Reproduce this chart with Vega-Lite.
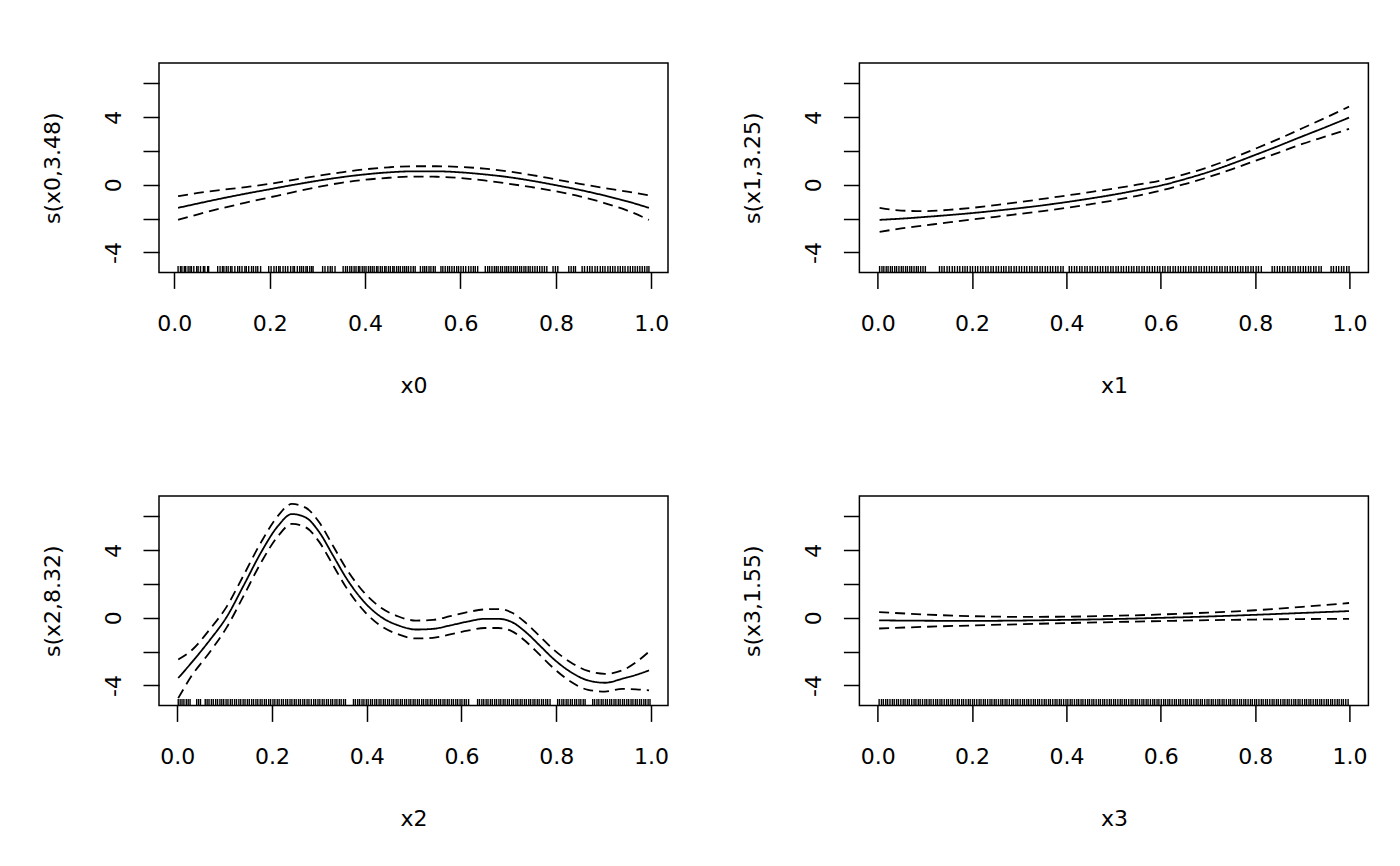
{
  "$schema": "https://vega.github.io/schema/vega-lite/v6.json",
  "background": "white",
  "padding": {"left": 40, "top": 62, "right": 0, "bottom": 0},
  "autosize": {"type": "pad"},
  "datasets": {
    "c0": [
      {"x": 0.008, "fit": -1.36, "up": -0.67, "lo": -2.07},
      {"x": 0.05, "fit": -1.10, "up": -0.48, "lo": -1.74},
      {"x": 0.1, "fit": -0.80, "up": -0.30, "lo": -1.38},
      {"x": 0.15, "fit": -0.52, "up": -0.13, "lo": -1.05},
      {"x": 0.2, "fit": -0.26, "up": 0.06, "lo": -0.74},
      {"x": 0.25, "fit": 0.00, "up": 0.30, "lo": -0.43},
      {"x": 0.3, "fit": 0.24, "up": 0.53, "lo": -0.13},
      {"x": 0.35, "fit": 0.45, "up": 0.74, "lo": 0.12},
      {"x": 0.4, "fit": 0.62, "up": 0.92, "lo": 0.30},
      {"x": 0.45, "fit": 0.74, "up": 1.04, "lo": 0.42},
      {"x": 0.5, "fit": 0.80, "up": 1.10, "lo": 0.49},
      {"x": 0.55, "fit": 0.80, "up": 1.10, "lo": 0.48},
      {"x": 0.6, "fit": 0.74, "up": 1.06, "lo": 0.40},
      {"x": 0.65, "fit": 0.62, "up": 0.96, "lo": 0.26},
      {"x": 0.7, "fit": 0.46, "up": 0.80, "lo": 0.07},
      {"x": 0.75, "fit": 0.24, "up": 0.58, "lo": -0.14},
      {"x": 0.8, "fit": -0.02, "up": 0.32, "lo": -0.38},
      {"x": 0.85, "fit": -0.30, "up": 0.06, "lo": -0.68},
      {"x": 0.9, "fit": -0.62, "up": -0.18, "lo": -1.06},
      {"x": 0.95, "fit": -0.98, "up": -0.40, "lo": -1.52},
      {"x": 0.995, "fit": -1.36, "up": -0.62, "lo": -2.07}
    ],
    "c1": [
      {"x": 0.004, "fit": -2.07, "up": -1.36, "lo": -2.78},
      {"x": 0.05, "fit": -2.00, "up": -1.52, "lo": -2.58},
      {"x": 0.1, "fit": -1.90, "up": -1.56, "lo": -2.40},
      {"x": 0.15, "fit": -1.79, "up": -1.48, "lo": -2.22},
      {"x": 0.2, "fit": -1.67, "up": -1.36, "lo": -2.05},
      {"x": 0.25, "fit": -1.53, "up": -1.20, "lo": -1.89},
      {"x": 0.3, "fit": -1.38, "up": -1.02, "lo": -1.72},
      {"x": 0.35, "fit": -1.21, "up": -0.83, "lo": -1.55},
      {"x": 0.4, "fit": -1.02, "up": -0.63, "lo": -1.36},
      {"x": 0.45, "fit": -0.81, "up": -0.43, "lo": -1.15},
      {"x": 0.5, "fit": -0.58, "up": -0.22, "lo": -0.92},
      {"x": 0.55, "fit": -0.32, "up": 0.01, "lo": -0.65},
      {"x": 0.6, "fit": -0.04, "up": 0.26, "lo": -0.34},
      {"x": 0.65, "fit": 0.33, "up": 0.62, "lo": 0.04},
      {"x": 0.7, "fit": 0.75, "up": 1.04, "lo": 0.45},
      {"x": 0.75, "fit": 1.24, "up": 1.56, "lo": 0.92},
      {"x": 0.8, "fit": 1.77, "up": 2.13, "lo": 1.42},
      {"x": 0.85, "fit": 2.31, "up": 2.72, "lo": 1.91},
      {"x": 0.9, "fit": 2.87, "up": 3.35, "lo": 2.42},
      {"x": 0.95, "fit": 3.42, "up": 3.98, "lo": 2.87},
      {"x": 0.999, "fit": 3.98, "up": 4.63, "lo": 3.31}
    ],
    "c2": [
      {"x": 0.002, "fit": -3.56, "up": -2.46, "lo": -4.75},
      {"x": 0.031, "fit": -2.62, "up": -1.90, "lo": -3.40},
      {"x": 0.068, "fit": -1.34, "up": -0.70, "lo": -2.05},
      {"x": 0.104, "fit": 0.04, "up": 0.65, "lo": -0.58},
      {"x": 0.14, "fit": 1.91, "up": 2.52, "lo": 1.30},
      {"x": 0.177, "fit": 3.88, "up": 4.48, "lo": 3.28},
      {"x": 0.213, "fit": 5.45, "up": 6.05, "lo": 4.85},
      {"x": 0.242, "fit": 6.14, "up": 6.74, "lo": 5.56},
      {"x": 0.271, "fit": 5.94, "up": 6.52, "lo": 5.36},
      {"x": 0.3, "fit": 5.06, "up": 5.64, "lo": 4.48},
      {"x": 0.329, "fit": 3.68, "up": 4.25, "lo": 3.11},
      {"x": 0.358, "fit": 2.30, "up": 2.86, "lo": 1.74},
      {"x": 0.395, "fit": 0.93, "up": 1.48, "lo": 0.38},
      {"x": 0.431, "fit": 0.04, "up": 0.58, "lo": -0.50},
      {"x": 0.467, "fit": -0.45, "up": 0.08, "lo": -0.98},
      {"x": 0.504, "fit": -0.69, "up": -0.16, "lo": -1.22},
      {"x": 0.54, "fit": -0.65, "up": -0.12, "lo": -1.18},
      {"x": 0.576, "fit": -0.45, "up": 0.10, "lo": -0.98},
      {"x": 0.613, "fit": -0.22, "up": 0.34, "lo": -0.76},
      {"x": 0.649, "fit": -0.06, "up": 0.50, "lo": -0.60},
      {"x": 0.678, "fit": -0.06, "up": 0.52, "lo": -0.60},
      {"x": 0.707, "fit": -0.26, "up": 0.30, "lo": -0.80},
      {"x": 0.736, "fit": -0.85, "up": -0.30, "lo": -1.40},
      {"x": 0.765, "fit": -1.63, "up": -1.08, "lo": -2.18},
      {"x": 0.794, "fit": -2.42, "up": -1.87, "lo": -2.97},
      {"x": 0.831, "fit": -3.21, "up": -2.64, "lo": -3.78},
      {"x": 0.867, "fit": -3.70, "up": -3.14, "lo": -4.26},
      {"x": 0.903, "fit": -3.84, "up": -3.31, "lo": -4.36},
      {"x": 0.94, "fit": -3.60, "up": -3.10, "lo": -4.20},
      {"x": 0.969, "fit": -3.37, "up": -2.62, "lo": -4.23},
      {"x": 0.996, "fit": -3.11, "up": -2.00, "lo": -4.29}
    ],
    "c3": [
      {"x": 0.003, "fit": -0.15, "up": 0.34, "lo": -0.63},
      {"x": 0.1, "fit": -0.17, "up": 0.20, "lo": -0.53},
      {"x": 0.2, "fit": -0.18, "up": 0.10, "lo": -0.45},
      {"x": 0.3, "fit": -0.16, "up": 0.06, "lo": -0.38},
      {"x": 0.4, "fit": -0.12, "up": 0.07, "lo": -0.31},
      {"x": 0.5, "fit": -0.07, "up": 0.12, "lo": -0.25},
      {"x": 0.6, "fit": 0.00, "up": 0.20, "lo": -0.19},
      {"x": 0.7, "fit": 0.08, "up": 0.31, "lo": -0.14},
      {"x": 0.8, "fit": 0.18, "up": 0.45, "lo": -0.10},
      {"x": 0.9, "fit": 0.29, "up": 0.65, "lo": -0.07},
      {"x": 0.999, "fit": 0.40, "up": 0.88, "lo": -0.06}
    ],
    "r0": [
      {"x": 0.008}, {"x": 0.013}, {"x": 0.016}, {"x": 0.021}, {"x": 0.024}, {"x": 0.029}, {"x": 0.033}, {"x": 0.036}, {"x": 0.041}, {"x": 0.047},
      {"x": 0.05}, {"x": 0.055}, {"x": 0.061}, {"x": 0.064}, {"x": 0.07}, {"x": 0.072}, {"x": 0.091}, {"x": 0.096}, {"x": 0.101}, {"x": 0.104},
      {"x": 0.109}, {"x": 0.113}, {"x": 0.118}, {"x": 0.121}, {"x": 0.127}, {"x": 0.133}, {"x": 0.137}, {"x": 0.142}, {"x": 0.148}, {"x": 0.151},
      {"x": 0.156}, {"x": 0.162}, {"x": 0.166}, {"x": 0.171}, {"x": 0.175}, {"x": 0.181}, {"x": 0.198}, {"x": 0.203}, {"x": 0.209}, {"x": 0.214},
      {"x": 0.219}, {"x": 0.222}, {"x": 0.228}, {"x": 0.233}, {"x": 0.238}, {"x": 0.244}, {"x": 0.249}, {"x": 0.252}, {"x": 0.258}, {"x": 0.263},
      {"x": 0.267}, {"x": 0.271}, {"x": 0.276}, {"x": 0.279}, {"x": 0.284}, {"x": 0.288}, {"x": 0.291}, {"x": 0.311}, {"x": 0.316}, {"x": 0.322},
      {"x": 0.327}, {"x": 0.331}, {"x": 0.337}, {"x": 0.354}, {"x": 0.359}, {"x": 0.363}, {"x": 0.368}, {"x": 0.372}, {"x": 0.377}, {"x": 0.381},
      {"x": 0.386}, {"x": 0.389}, {"x": 0.394}, {"x": 0.398}, {"x": 0.402}, {"x": 0.407}, {"x": 0.411}, {"x": 0.415}, {"x": 0.419}, {"x": 0.424},
      {"x": 0.427}, {"x": 0.432}, {"x": 0.436}, {"x": 0.441}, {"x": 0.444}, {"x": 0.449}, {"x": 0.453}, {"x": 0.458}, {"x": 0.461}, {"x": 0.466},
      {"x": 0.47}, {"x": 0.474}, {"x": 0.479}, {"x": 0.483}, {"x": 0.487}, {"x": 0.491}, {"x": 0.496}, {"x": 0.501}, {"x": 0.505}, {"x": 0.516},
      {"x": 0.521}, {"x": 0.525}, {"x": 0.529}, {"x": 0.534}, {"x": 0.538}, {"x": 0.543}, {"x": 0.547}, {"x": 0.559}, {"x": 0.563}, {"x": 0.568},
      {"x": 0.573}, {"x": 0.577}, {"x": 0.582}, {"x": 0.587}, {"x": 0.592}, {"x": 0.596}, {"x": 0.601}, {"x": 0.606}, {"x": 0.611}, {"x": 0.617},
      {"x": 0.622}, {"x": 0.627}, {"x": 0.631}, {"x": 0.636}, {"x": 0.652}, {"x": 0.657}, {"x": 0.661}, {"x": 0.666}, {"x": 0.671}, {"x": 0.675},
      {"x": 0.679}, {"x": 0.684}, {"x": 0.688}, {"x": 0.693}, {"x": 0.697}, {"x": 0.701}, {"x": 0.706}, {"x": 0.711}, {"x": 0.715}, {"x": 0.719},
      {"x": 0.724}, {"x": 0.728}, {"x": 0.733}, {"x": 0.737}, {"x": 0.742}, {"x": 0.746}, {"x": 0.751}, {"x": 0.756}, {"x": 0.761}, {"x": 0.766},
      {"x": 0.771}, {"x": 0.776}, {"x": 0.781}, {"x": 0.794}, {"x": 0.799}, {"x": 0.804}, {"x": 0.827}, {"x": 0.832}, {"x": 0.837}, {"x": 0.841},
      {"x": 0.855}, {"x": 0.86}, {"x": 0.866}, {"x": 0.871}, {"x": 0.876}, {"x": 0.882}, {"x": 0.887}, {"x": 0.893}, {"x": 0.898}, {"x": 0.903},
      {"x": 0.909}, {"x": 0.914}, {"x": 0.919}, {"x": 0.924}, {"x": 0.93}, {"x": 0.935}, {"x": 0.94}, {"x": 0.945}, {"x": 0.951}, {"x": 0.956},
      {"x": 0.961}, {"x": 0.966}, {"x": 0.971}, {"x": 0.976}, {"x": 0.981}, {"x": 0.986}, {"x": 0.991}, {"x": 0.995}
    ],
    "r1": [
      {"x": 0.004}, {"x": 0.009}, {"x": 0.013}, {"x": 0.018}, {"x": 0.022}, {"x": 0.027}, {"x": 0.031}, {"x": 0.036}, {"x": 0.04}, {"x": 0.045},
      {"x": 0.05}, {"x": 0.054}, {"x": 0.059}, {"x": 0.063}, {"x": 0.068}, {"x": 0.072}, {"x": 0.077}, {"x": 0.082}, {"x": 0.086}, {"x": 0.091},
      {"x": 0.096}, {"x": 0.101}, {"x": 0.131}, {"x": 0.136}, {"x": 0.141}, {"x": 0.147}, {"x": 0.152}, {"x": 0.158}, {"x": 0.163}, {"x": 0.169},
      {"x": 0.174}, {"x": 0.18}, {"x": 0.185}, {"x": 0.19}, {"x": 0.196}, {"x": 0.201}, {"x": 0.207}, {"x": 0.212}, {"x": 0.218}, {"x": 0.223},
      {"x": 0.229}, {"x": 0.234}, {"x": 0.24}, {"x": 0.245}, {"x": 0.251}, {"x": 0.256}, {"x": 0.262}, {"x": 0.267}, {"x": 0.272}, {"x": 0.278},
      {"x": 0.283}, {"x": 0.289}, {"x": 0.294}, {"x": 0.3}, {"x": 0.305}, {"x": 0.311}, {"x": 0.316}, {"x": 0.322}, {"x": 0.327}, {"x": 0.333},
      {"x": 0.338}, {"x": 0.344}, {"x": 0.349}, {"x": 0.355}, {"x": 0.36}, {"x": 0.366}, {"x": 0.371}, {"x": 0.377}, {"x": 0.382}, {"x": 0.388},
      {"x": 0.393}, {"x": 0.406}, {"x": 0.411}, {"x": 0.417}, {"x": 0.422}, {"x": 0.428}, {"x": 0.433}, {"x": 0.439}, {"x": 0.444}, {"x": 0.45},
      {"x": 0.455}, {"x": 0.461}, {"x": 0.466}, {"x": 0.472}, {"x": 0.477}, {"x": 0.483}, {"x": 0.488}, {"x": 0.494}, {"x": 0.499}, {"x": 0.505},
      {"x": 0.51}, {"x": 0.516}, {"x": 0.521}, {"x": 0.527}, {"x": 0.532}, {"x": 0.538}, {"x": 0.543}, {"x": 0.549}, {"x": 0.554}, {"x": 0.56},
      {"x": 0.565}, {"x": 0.571}, {"x": 0.576}, {"x": 0.582}, {"x": 0.587}, {"x": 0.593}, {"x": 0.598}, {"x": 0.604}, {"x": 0.609}, {"x": 0.615},
      {"x": 0.62}, {"x": 0.626}, {"x": 0.631}, {"x": 0.637}, {"x": 0.642}, {"x": 0.648}, {"x": 0.653}, {"x": 0.659}, {"x": 0.664}, {"x": 0.67},
      {"x": 0.675}, {"x": 0.681}, {"x": 0.686}, {"x": 0.692}, {"x": 0.697}, {"x": 0.703}, {"x": 0.708}, {"x": 0.714}, {"x": 0.719}, {"x": 0.725},
      {"x": 0.73}, {"x": 0.736}, {"x": 0.741}, {"x": 0.747}, {"x": 0.752}, {"x": 0.758}, {"x": 0.763}, {"x": 0.769}, {"x": 0.774}, {"x": 0.78},
      {"x": 0.785}, {"x": 0.791}, {"x": 0.796}, {"x": 0.802}, {"x": 0.807}, {"x": 0.813}, {"x": 0.836}, {"x": 0.841}, {"x": 0.847}, {"x": 0.852},
      {"x": 0.858}, {"x": 0.863}, {"x": 0.869}, {"x": 0.874}, {"x": 0.88}, {"x": 0.885}, {"x": 0.891}, {"x": 0.896}, {"x": 0.902}, {"x": 0.907},
      {"x": 0.913}, {"x": 0.918}, {"x": 0.924}, {"x": 0.929}, {"x": 0.935}, {"x": 0.94}, {"x": 0.961}, {"x": 0.966}, {"x": 0.972}, {"x": 0.977},
      {"x": 0.983}, {"x": 0.988}, {"x": 0.994}, {"x": 0.999}
    ],
    "r2": [
      {"x": 0.002}, {"x": 0.006}, {"x": 0.01}, {"x": 0.014}, {"x": 0.019}, {"x": 0.023}, {"x": 0.027}, {"x": 0.041}, {"x": 0.045}, {"x": 0.049},
      {"x": 0.059}, {"x": 0.063}, {"x": 0.067}, {"x": 0.072}, {"x": 0.076}, {"x": 0.081}, {"x": 0.085}, {"x": 0.09}, {"x": 0.094}, {"x": 0.098},
      {"x": 0.103}, {"x": 0.107}, {"x": 0.112}, {"x": 0.116}, {"x": 0.121}, {"x": 0.125}, {"x": 0.13}, {"x": 0.134}, {"x": 0.139}, {"x": 0.143},
      {"x": 0.148}, {"x": 0.152}, {"x": 0.157}, {"x": 0.161}, {"x": 0.166}, {"x": 0.17}, {"x": 0.175}, {"x": 0.179}, {"x": 0.184}, {"x": 0.188},
      {"x": 0.193}, {"x": 0.197}, {"x": 0.202}, {"x": 0.206}, {"x": 0.211}, {"x": 0.215}, {"x": 0.22}, {"x": 0.224}, {"x": 0.229}, {"x": 0.233},
      {"x": 0.238}, {"x": 0.242}, {"x": 0.247}, {"x": 0.251}, {"x": 0.256}, {"x": 0.26}, {"x": 0.265}, {"x": 0.269}, {"x": 0.274}, {"x": 0.278},
      {"x": 0.283}, {"x": 0.288}, {"x": 0.292}, {"x": 0.297}, {"x": 0.301}, {"x": 0.306}, {"x": 0.31}, {"x": 0.315}, {"x": 0.319}, {"x": 0.324},
      {"x": 0.328}, {"x": 0.333}, {"x": 0.337}, {"x": 0.342}, {"x": 0.346}, {"x": 0.351}, {"x": 0.355}, {"x": 0.372}, {"x": 0.376}, {"x": 0.381},
      {"x": 0.385}, {"x": 0.39}, {"x": 0.394}, {"x": 0.399}, {"x": 0.403}, {"x": 0.408}, {"x": 0.412}, {"x": 0.417}, {"x": 0.421}, {"x": 0.426},
      {"x": 0.43}, {"x": 0.435}, {"x": 0.439}, {"x": 0.444}, {"x": 0.448}, {"x": 0.453}, {"x": 0.457}, {"x": 0.462}, {"x": 0.466}, {"x": 0.471},
      {"x": 0.475}, {"x": 0.48}, {"x": 0.484}, {"x": 0.489}, {"x": 0.493}, {"x": 0.498}, {"x": 0.502}, {"x": 0.507}, {"x": 0.511}, {"x": 0.516},
      {"x": 0.52}, {"x": 0.525}, {"x": 0.529}, {"x": 0.534}, {"x": 0.538}, {"x": 0.543}, {"x": 0.547}, {"x": 0.552}, {"x": 0.556}, {"x": 0.561},
      {"x": 0.565}, {"x": 0.57}, {"x": 0.574}, {"x": 0.579}, {"x": 0.583}, {"x": 0.588}, {"x": 0.592}, {"x": 0.597}, {"x": 0.601}, {"x": 0.606},
      {"x": 0.61}, {"x": 0.615}, {"x": 0.634}, {"x": 0.638}, {"x": 0.643}, {"x": 0.647}, {"x": 0.652}, {"x": 0.656}, {"x": 0.661}, {"x": 0.665},
      {"x": 0.67}, {"x": 0.674}, {"x": 0.679}, {"x": 0.683}, {"x": 0.688}, {"x": 0.692}, {"x": 0.697}, {"x": 0.701}, {"x": 0.706}, {"x": 0.71},
      {"x": 0.715}, {"x": 0.719}, {"x": 0.724}, {"x": 0.728}, {"x": 0.733}, {"x": 0.737}, {"x": 0.742}, {"x": 0.746}, {"x": 0.751}, {"x": 0.755},
      {"x": 0.76}, {"x": 0.764}, {"x": 0.769}, {"x": 0.773}, {"x": 0.778}, {"x": 0.782}, {"x": 0.787}, {"x": 0.803}, {"x": 0.807}, {"x": 0.812},
      {"x": 0.816}, {"x": 0.821}, {"x": 0.825}, {"x": 0.83}, {"x": 0.834}, {"x": 0.839}, {"x": 0.843}, {"x": 0.848}, {"x": 0.852}, {"x": 0.857},
      {"x": 0.861}, {"x": 0.877}, {"x": 0.881}, {"x": 0.886}, {"x": 0.89}, {"x": 0.895}, {"x": 0.899}, {"x": 0.904}, {"x": 0.908}, {"x": 0.913},
      {"x": 0.917}, {"x": 0.922}, {"x": 0.926}, {"x": 0.931}, {"x": 0.935}, {"x": 0.94}, {"x": 0.944}, {"x": 0.949}, {"x": 0.953}, {"x": 0.958},
      {"x": 0.962}, {"x": 0.967}, {"x": 0.971}, {"x": 0.976}, {"x": 0.98}, {"x": 0.985}, {"x": 0.989}, {"x": 0.994}, {"x": 0.998}
    ],
    "r3": [
      {"x": 0.003}, {"x": 0.008}, {"x": 0.012}, {"x": 0.017}, {"x": 0.021}, {"x": 0.026}, {"x": 0.031}, {"x": 0.035}, {"x": 0.04}, {"x": 0.044},
      {"x": 0.049}, {"x": 0.054}, {"x": 0.058}, {"x": 0.063}, {"x": 0.067}, {"x": 0.072}, {"x": 0.077}, {"x": 0.081}, {"x": 0.086}, {"x": 0.09},
      {"x": 0.095}, {"x": 0.1}, {"x": 0.104}, {"x": 0.109}, {"x": 0.113}, {"x": 0.118}, {"x": 0.123}, {"x": 0.127}, {"x": 0.132}, {"x": 0.136},
      {"x": 0.141}, {"x": 0.146}, {"x": 0.15}, {"x": 0.155}, {"x": 0.159}, {"x": 0.164}, {"x": 0.169}, {"x": 0.173}, {"x": 0.178}, {"x": 0.182},
      {"x": 0.187}, {"x": 0.192}, {"x": 0.196}, {"x": 0.201}, {"x": 0.205}, {"x": 0.21}, {"x": 0.215}, {"x": 0.219}, {"x": 0.224}, {"x": 0.228},
      {"x": 0.233}, {"x": 0.238}, {"x": 0.242}, {"x": 0.247}, {"x": 0.251}, {"x": 0.256}, {"x": 0.261}, {"x": 0.265}, {"x": 0.27}, {"x": 0.274},
      {"x": 0.279}, {"x": 0.284}, {"x": 0.288}, {"x": 0.293}, {"x": 0.297}, {"x": 0.302}, {"x": 0.307}, {"x": 0.311}, {"x": 0.316}, {"x": 0.32},
      {"x": 0.325}, {"x": 0.33}, {"x": 0.334}, {"x": 0.339}, {"x": 0.343}, {"x": 0.348}, {"x": 0.353}, {"x": 0.357}, {"x": 0.362}, {"x": 0.366},
      {"x": 0.371}, {"x": 0.376}, {"x": 0.38}, {"x": 0.385}, {"x": 0.389}, {"x": 0.394}, {"x": 0.399}, {"x": 0.403}, {"x": 0.408}, {"x": 0.412},
      {"x": 0.417}, {"x": 0.422}, {"x": 0.426}, {"x": 0.431}, {"x": 0.435}, {"x": 0.44}, {"x": 0.445}, {"x": 0.449}, {"x": 0.454}, {"x": 0.458},
      {"x": 0.463}, {"x": 0.468}, {"x": 0.472}, {"x": 0.477}, {"x": 0.481}, {"x": 0.486}, {"x": 0.491}, {"x": 0.495}, {"x": 0.5}, {"x": 0.504},
      {"x": 0.509}, {"x": 0.514}, {"x": 0.518}, {"x": 0.523}, {"x": 0.527}, {"x": 0.532}, {"x": 0.537}, {"x": 0.541}, {"x": 0.546}, {"x": 0.55},
      {"x": 0.555}, {"x": 0.56}, {"x": 0.564}, {"x": 0.569}, {"x": 0.573}, {"x": 0.578}, {"x": 0.583}, {"x": 0.587}, {"x": 0.592}, {"x": 0.596},
      {"x": 0.601}, {"x": 0.606}, {"x": 0.61}, {"x": 0.615}, {"x": 0.619}, {"x": 0.624}, {"x": 0.629}, {"x": 0.633}, {"x": 0.638}, {"x": 0.642},
      {"x": 0.647}, {"x": 0.652}, {"x": 0.656}, {"x": 0.661}, {"x": 0.665}, {"x": 0.67}, {"x": 0.675}, {"x": 0.679}, {"x": 0.684}, {"x": 0.688},
      {"x": 0.693}, {"x": 0.698}, {"x": 0.702}, {"x": 0.707}, {"x": 0.711}, {"x": 0.716}, {"x": 0.721}, {"x": 0.725}, {"x": 0.73}, {"x": 0.734},
      {"x": 0.739}, {"x": 0.744}, {"x": 0.748}, {"x": 0.753}, {"x": 0.757}, {"x": 0.762}, {"x": 0.767}, {"x": 0.771}, {"x": 0.776}, {"x": 0.78},
      {"x": 0.785}, {"x": 0.79}, {"x": 0.794}, {"x": 0.799}, {"x": 0.803}, {"x": 0.808}, {"x": 0.813}, {"x": 0.817}, {"x": 0.822}, {"x": 0.826},
      {"x": 0.831}, {"x": 0.836}, {"x": 0.84}, {"x": 0.845}, {"x": 0.849}, {"x": 0.854}, {"x": 0.859}, {"x": 0.863}, {"x": 0.868}, {"x": 0.872},
      {"x": 0.877}, {"x": 0.882}, {"x": 0.886}, {"x": 0.891}, {"x": 0.895}, {"x": 0.9}, {"x": 0.905}, {"x": 0.909}, {"x": 0.914}, {"x": 0.918},
      {"x": 0.923}, {"x": 0.928}, {"x": 0.932}, {"x": 0.937}, {"x": 0.941}, {"x": 0.946}, {"x": 0.951}, {"x": 0.955}, {"x": 0.96}, {"x": 0.964},
      {"x": 0.969}, {"x": 0.974}, {"x": 0.978}, {"x": 0.983}, {"x": 0.987}, {"x": 0.992}, {"x": 0.997}
    ]
  },
  "columns": 2,
  "spacing": {"row": 223, "column": 191.4},
  "bounds": "flush",
  "concat": [
    {
      "width": 509,
      "height": 209.4,
      "encoding": {
        "x": {
          "field": "x", "type": "quantitative",
          "scale": {"domain": [-0.032, 1.035], "nice": false, "zero": false},
          "axis": {"values": [0, 0.2, 0.4, 0.6, 0.8, 1], "format": ".1f", "labelBaseline": "alphabetic", "labelPadding": 42, "title": "x0", "titleX": 254.5, "titleY": 120.3, "titleBaseline": "alphabetic", "titleAlign": "center"}
        }
      },
      "layer": [
        {
          "data": {"name": "c0"},
          "transform": [{"fold": ["fit", "up", "lo"], "as": ["k", "v"]}],
          "mark": {"type": "line", "color": "black", "strokeWidth": 1.8, "interpolate": "monotone"},
          "encoding": {
            "y": {
              "field": "v", "type": "quantitative",
              "scale": {"domain": [-5.18, 7.21], "nice": false, "zero": false},
              "axis": {"values": [-4, -2, 0, 2, 4, 6], "labelExpr": "datum.value == 4 ? '4' : datum.value == 0 ? '0' : datum.value == -4 ? '-4' : ''", "labelAngle": -90, "labelAlign": "center", "labelBaseline": "alphabetic", "labelPadding": 22.5, "title": "s(x0,3.48)", "titleAngle": -90, "titleX": -99.5, "titleY": 104.7, "titleAlign": "center", "titleBaseline": "alphabetic"}
            },
            "strokeDash": {"field": "k", "type": "nominal", "scale": {"domain": ["fit", "up", "lo"], "range": [[1, 0], [10, 6], [10, 6]]}, "legend": null}
          }
        },
        {
          "data": {"name": "r0"},
          "mark": {"type": "rule", "color": "black", "strokeWidth": 1.4},
          "encoding": {
            "y": {
              "datum": -5.18, "type": "quantitative",
              "scale": {"domain": [-5.18, 7.21], "nice": false, "zero": false},
              "axis": {"values": [-4, -2, 0, 2, 4, 6], "labelExpr": "datum.value == 4 ? '4' : datum.value == 0 ? '0' : datum.value == -4 ? '-4' : ''", "labelAngle": -90, "labelAlign": "center", "labelBaseline": "alphabetic", "labelPadding": 22.5, "title": "s(x0,3.48)", "titleAngle": -90, "titleX": -99.5, "titleY": 104.7, "titleAlign": "center", "titleBaseline": "alphabetic"}
            },
            "y2": {"datum": -4.8}
          }
        }
      ]
    },
    {
      "width": 509,
      "height": 209.4,
      "encoding": {
        "x": {
          "field": "x", "type": "quantitative",
          "scale": {"domain": [-0.0388, 1.04], "nice": false, "zero": false},
          "axis": {"values": [0, 0.2, 0.4, 0.6, 0.8, 1], "format": ".1f", "labelBaseline": "alphabetic", "labelPadding": 42, "title": "x1", "titleX": 254.5, "titleY": 120.3, "titleBaseline": "alphabetic", "titleAlign": "center"}
        }
      },
      "layer": [
        {
          "data": {"name": "c1"},
          "transform": [{"fold": ["fit", "up", "lo"], "as": ["k", "v"]}],
          "mark": {"type": "line", "color": "black", "strokeWidth": 1.8, "interpolate": "monotone"},
          "encoding": {
            "y": {
              "field": "v", "type": "quantitative",
              "scale": {"domain": [-5.18, 7.21], "nice": false, "zero": false},
              "axis": {"values": [-4, -2, 0, 2, 4, 6], "labelExpr": "datum.value == 4 ? '4' : datum.value == 0 ? '0' : datum.value == -4 ? '-4' : ''", "labelAngle": -90, "labelAlign": "center", "labelBaseline": "alphabetic", "labelPadding": 22.5, "title": "s(x1,3.25)", "titleAngle": -90, "titleX": -99.5, "titleY": 104.7, "titleAlign": "center", "titleBaseline": "alphabetic"}
            },
            "strokeDash": {"field": "k", "type": "nominal", "scale": {"domain": ["fit", "up", "lo"], "range": [[1, 0], [10, 6], [10, 6]]}, "legend": null}
          }
        },
        {
          "data": {"name": "r1"},
          "mark": {"type": "rule", "color": "black", "strokeWidth": 1.4},
          "encoding": {
            "y": {
              "datum": -5.18, "type": "quantitative",
              "scale": {"domain": [-5.18, 7.21], "nice": false, "zero": false},
              "axis": {"values": [-4, -2, 0, 2, 4, 6], "labelExpr": "datum.value == 4 ? '4' : datum.value == 0 ? '0' : datum.value == -4 ? '-4' : ''", "labelAngle": -90, "labelAlign": "center", "labelBaseline": "alphabetic", "labelPadding": 22.5, "title": "s(x1,3.25)", "titleAngle": -90, "titleX": -99.5, "titleY": 104.7, "titleAlign": "center", "titleBaseline": "alphabetic"}
            },
            "y2": {"datum": -4.8}
          }
        }
      ]
    },
    {
      "width": 509,
      "height": 209.4,
      "encoding": {
        "x": {
          "field": "x", "type": "quantitative",
          "scale": {"domain": [-0.0386, 1.036], "nice": false, "zero": false},
          "axis": {"values": [0, 0.2, 0.4, 0.6, 0.8, 1], "format": ".1f", "labelBaseline": "alphabetic", "labelPadding": 42, "title": "x2", "titleX": 254.5, "titleY": 120.3, "titleBaseline": "alphabetic", "titleAlign": "center"}
        }
      },
      "layer": [
        {
          "data": {"name": "c2"},
          "transform": [{"fold": ["fit", "up", "lo"], "as": ["k", "v"]}],
          "mark": {"type": "line", "color": "black", "strokeWidth": 1.8, "interpolate": "monotone"},
          "encoding": {
            "y": {
              "field": "v", "type": "quantitative",
              "scale": {"domain": [-5.18, 7.21], "nice": false, "zero": false},
              "axis": {"values": [-4, -2, 0, 2, 4, 6], "labelExpr": "datum.value == 4 ? '4' : datum.value == 0 ? '0' : datum.value == -4 ? '-4' : ''", "labelAngle": -90, "labelAlign": "center", "labelBaseline": "alphabetic", "labelPadding": 22.5, "title": "s(x2,8.32)", "titleAngle": -90, "titleX": -99.5, "titleY": 104.7, "titleAlign": "center", "titleBaseline": "alphabetic"}
            },
            "strokeDash": {"field": "k", "type": "nominal", "scale": {"domain": ["fit", "up", "lo"], "range": [[1, 0], [10, 6], [10, 6]]}, "legend": null}
          }
        },
        {
          "data": {"name": "r2"},
          "mark": {"type": "rule", "color": "black", "strokeWidth": 1.4},
          "encoding": {
            "y": {
              "datum": -5.18, "type": "quantitative",
              "scale": {"domain": [-5.18, 7.21], "nice": false, "zero": false},
              "axis": {"values": [-4, -2, 0, 2, 4, 6], "labelExpr": "datum.value == 4 ? '4' : datum.value == 0 ? '0' : datum.value == -4 ? '-4' : ''", "labelAngle": -90, "labelAlign": "center", "labelBaseline": "alphabetic", "labelPadding": 22.5, "title": "s(x2,8.32)", "titleAngle": -90, "titleX": -99.5, "titleY": 104.7, "titleAlign": "center", "titleBaseline": "alphabetic"}
            },
            "y2": {"datum": -4.8}
          }
        }
      ]
    },
    {
      "width": 509,
      "height": 209.4,
      "encoding": {
        "x": {
          "field": "x", "type": "quantitative",
          "scale": {"domain": [-0.0388, 1.04], "nice": false, "zero": false},
          "axis": {"values": [0, 0.2, 0.4, 0.6, 0.8, 1], "format": ".1f", "labelBaseline": "alphabetic", "labelPadding": 42, "title": "x3", "titleX": 254.5, "titleY": 120.3, "titleBaseline": "alphabetic", "titleAlign": "center"}
        }
      },
      "layer": [
        {
          "data": {"name": "c3"},
          "transform": [{"fold": ["fit", "up", "lo"], "as": ["k", "v"]}],
          "mark": {"type": "line", "color": "black", "strokeWidth": 1.8, "interpolate": "monotone"},
          "encoding": {
            "y": {
              "field": "v", "type": "quantitative",
              "scale": {"domain": [-5.18, 7.21], "nice": false, "zero": false},
              "axis": {"values": [-4, -2, 0, 2, 4, 6], "labelExpr": "datum.value == 4 ? '4' : datum.value == 0 ? '0' : datum.value == -4 ? '-4' : ''", "labelAngle": -90, "labelAlign": "center", "labelBaseline": "alphabetic", "labelPadding": 22.5, "title": "s(x3,1.55)", "titleAngle": -90, "titleX": -99.5, "titleY": 104.7, "titleAlign": "center", "titleBaseline": "alphabetic"}
            },
            "strokeDash": {"field": "k", "type": "nominal", "scale": {"domain": ["fit", "up", "lo"], "range": [[1, 0], [10, 6], [10, 6]]}, "legend": null}
          }
        },
        {
          "data": {"name": "r3"},
          "mark": {"type": "rule", "color": "black", "strokeWidth": 1.4},
          "encoding": {
            "y": {
              "datum": -5.18, "type": "quantitative",
              "scale": {"domain": [-5.18, 7.21], "nice": false, "zero": false},
              "axis": {"values": [-4, -2, 0, 2, 4, 6], "labelExpr": "datum.value == 4 ? '4' : datum.value == 0 ? '0' : datum.value == -4 ? '-4' : ''", "labelAngle": -90, "labelAlign": "center", "labelBaseline": "alphabetic", "labelPadding": 22.5, "title": "s(x3,1.55)", "titleAngle": -90, "titleX": -99.5, "titleY": 104.7, "titleAlign": "center", "titleBaseline": "alphabetic"}
            },
            "y2": {"datum": -4.8}
          }
        }
      ]
    }
  ],
  "config": {
    "view": {"stroke": "black", "strokeWidth": 1.5},
    "axis": {
      "domain": false,
      "grid": false,
      "tickSize": 16,
      "tickWidth": 1.5,
      "tickColor": "black",
      "labelFont": "DejaVu Sans",
      "labelFontSize": 22,
      "labelColor": "black",
      "labelOverlap": false,
      "labelFlush": false,
      "titleFont": "DejaVu Sans",
      "titleFontSize": 22,
      "titleFontWeight": "normal",
      "titleColor": "black"
    }
  }
}
